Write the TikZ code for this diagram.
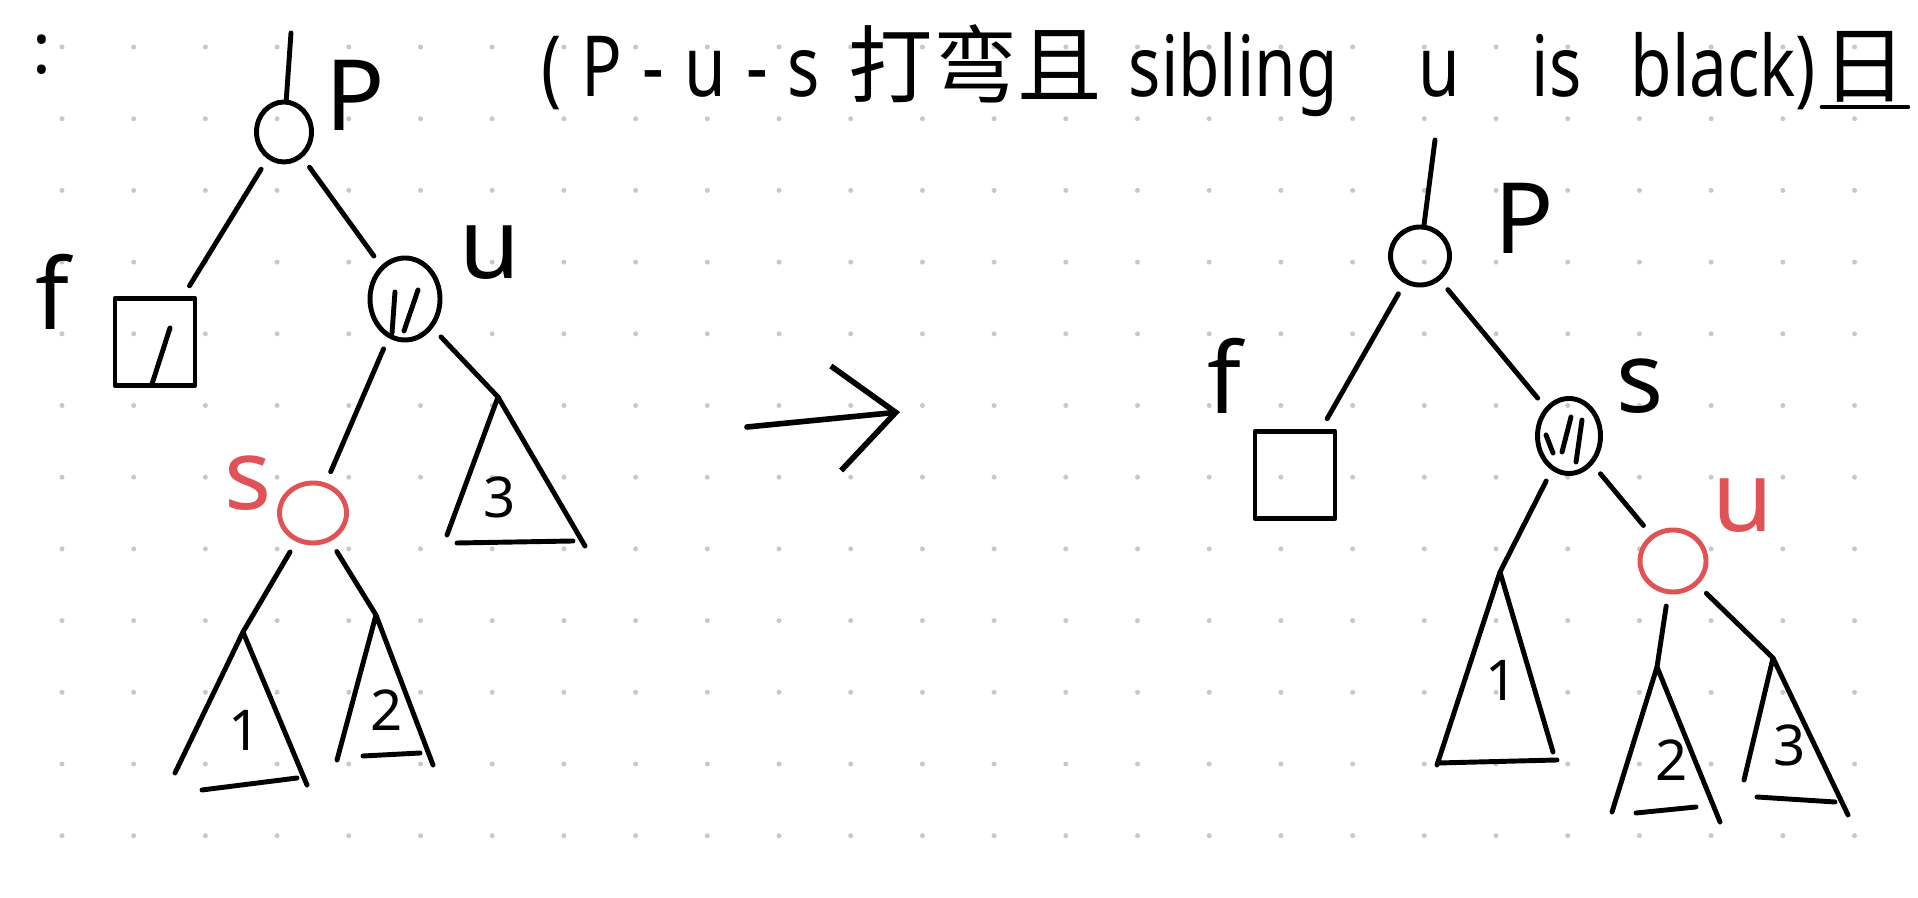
\documentclass[tikz,border=0pt]{standalone}
\usepackage{fontspec}
\setmainfont{Noto Sans}
\newfontfamily\handfont{Noto Sans}[FakeStretch=0.8]
\newfontfamily\cjkfont{Noto Sans CJK SC}
\usetikzlibrary{arrows.meta,shapes.geometric}
\definecolor{penred}{RGB}{224,82,86}
\definecolor{dotgray}{RGB}{200,200,200}
\tikzset{
  pen/.style={line width=1.4pt, line cap=round, line join=round},
  vnode/.style={ellipse, draw, pen, inner sep=0pt},
  rednode/.style={vnode, draw=penred},
  leaf/.style={rectangle, draw, pen, minimum width=8mm, minimum height=8.7mm, inner sep=0pt},
  branch/.style={pen, shorten <=1.2mm, shorten >=1.2mm},
  tagtext/.style={font=\fontsize{28}{30}\selectfont, inner sep=0pt},
  redtag/.style={tagtext, text=penred},
  num/.style={font=\fontsize{16}{18}\selectfont, inner sep=0pt},
  headline/.style={font=\handfont\fontsize{24}{26}\selectfont, anchor=base west, inner sep=0pt},
  cjkline/.style={headline, font=\cjkfont\fontsize{24}{26}\selectfont},
  goesto/.style={line width=1.6pt, line cap=round, -{Straight Barb[length=6mm, width=10.5mm]}},
}

\begin{document}
\begin{tikzpicture}[x=0.1mm, y=-0.1mm]
\useasboundingbox (0,0) rectangle (1918,898);
\fill[white] (0,0) rectangle (1918,898);

% ---- dot grid ----
\foreach \i in {0,...,25}
  \foreach \j in {0,...,11}
    \fill[dotgray] (62+71.7*\i, 47+71.7*\j) circle (0.25mm);

% ---- title ----
\node[num, font=\fontsize{20}{22}\selectfont] (colon) at (42,55) {:};
\node[headline] (t1) at (541,97) {(\hspace{2mm}P\hspace{2mm}-\hspace{2mm}u\hspace{2mm}-\hspace{2mm}s};
\node[cjkline] (t2) at (848,97) {打弯且};
\node[headline] (t3) at (1128,97) {sibling};
\node[headline] (t4) at (1418,97) {u};
\node[headline] (t5) at (1531,97) {is};
\node[headline] (t6) at (1630,97) {black)};
\node[cjkline] (t7) at (1822,97) {日};
\draw[pen] ([yshift=-1mm]t7.base west) -- ([yshift=-1mm]t7.base east);

% ---- left tree: before ----
\coordinate (lroot) at (291,33);
\node[vnode, minimum width=5.5mm, minimum height=6mm] (lp) at (284,132) {};
\node[leaf] (lf) at (155,342) {};
\node[vnode, minimum width=7mm, minimum height=8.2mm] (lu) at (405,299) {};
\node[rednode, minimum width=6.7mm, minimum height=6mm] (ls) at (313,513) {};
\coordinate (lt1) at (243,632);
\coordinate (lt2) at (376,615);
\coordinate (lt3) at (498,397);

\node[tagtext] (lpl) at (355,95) {P};
\node[tagtext] (lfl) at (52,292) {f};
\node[tagtext] (lul) at (490,253) {u};
\node[redtag] (lsl) at (248,483) {s};

% black marks
\draw[pen] ([shift={(-1mm,0.7mm)}]lu.center) -- ([shift={(-1.3mm,-3.4mm)}]lu.center);
\draw[pen] ([shift={(1.3mm,0.9mm)}]lu.center) -- ([shift={(-0.1mm,-3.2mm)}]lu.center);
\draw[pen] ([shift={(1.5mm,1.4mm)}]lf.center) -- ([shift={(-0.3mm,-4.2mm)}]lf.center);

% subtrees
\draw[pen] (447,535) -- (lt3) -- (585,546) (457,543) -- (573,541);
\draw[pen] (175,773) -- (lt1) -- (307,785) (202,790) -- (297,778);
\draw[pen] (337,760) -- (lt2) -- (433,765) (363,756) -- (420,753);
\node[num] (ln3) at (500,497) {3};
\node[num] (ln1) at (245,730) {1};
\node[num] (ln2) at (387,710) {2};

\draw[pen] (lroot) -- (lp);
\foreach \a/\b in {lp/lf, lp/lu, lu/ls}
  \draw[branch] (\a) -- (\b);
\foreach \a/\b in {lu/lt3, ls/lt1, ls/lt2}
  \draw[branch, shorten >=0pt] (\a) -- (\b);

% ---- rotation arrow ----
\coordinate (from) at (747,427);
\coordinate (to) at (900,412);
\draw[goesto] (from) -- (to);

% ---- right tree: after ----
\coordinate (rroot) at (1435,140);
\node[vnode, minimum width=5.9mm, minimum height=5.8mm] (rp) at (1420,256) {};
\node[leaf] (rf) at (1295,475) {};
\node[vnode, minimum width=6.3mm, minimum height=7.5mm] (rs) at (1569,436) {};
\node[rednode, minimum width=6.6mm, minimum height=6.2mm] (ru) at (1673,561) {};
\coordinate (rt1) at (1500,572);
\coordinate (rt2) at (1657,667);
\coordinate (rt3) at (1773,658);

\node[tagtext] (rpl) at (1524,218) {P};
\node[tagtext] (rfl) at (1224,376) {f};
\node[tagtext] (rsl) at (1640,386) {s};
\node[redtag] (rul) at (1743,506) {u};

% black marks
\draw[pen] ([shift={(0.2mm,1.9mm)}]rs.center) -- ([shift={(-0.7mm,-1.6mm)}]rs.center);
\draw[pen] ([shift={(1.3mm,1.6mm)}]rs.center) -- ([shift={(0.7mm,-2.6mm)}]rs.center);
\draw[pen] ([shift={(-2.3mm,0.1mm)}]rs.center) -- ([shift={(-1.6mm,-1.7mm)}]rs.center);

% subtrees
\draw[pen] (1437,765) -- (rt1) -- (1553,752) (1438,763) -- (1557,760);
\draw[pen] (1612,812) -- (rt2) -- (1720,822) (1636,813) -- (1696,807);
\draw[pen] (1744,780) -- (rt3) -- (1848,815) (1757,797) -- (1835,802);
\node[num] (rn1) at (1502,680) {1};
\node[num] (rn2) at (1672,760) {2};
\node[num] (rn3) at (1790,745) {3};

\draw[pen] (rroot) -- (rp);
\foreach \a/\b in {rp/rf, rp/rs, rs/ru}
  \draw[branch] (\a) -- (\b);
\foreach \a/\b in {rs/rt1, ru/rt2, ru/rt3}
  \draw[branch, shorten >=0pt] (\a) -- (\b);
\end{tikzpicture}
\end{document}
